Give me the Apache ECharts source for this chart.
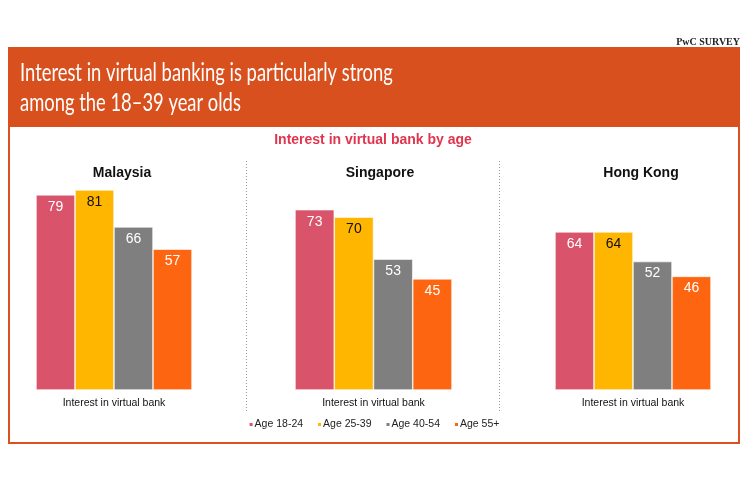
<!DOCTYPE html>
<html><head><meta charset="utf-8">
<script src="https://cdn.jsdelivr.net/npm/echarts@6/dist/echarts.min.js"></script>
<style>html,body{margin:0;padding:0;background:#fff}#c{width:747px;height:498px}</style>
</head><body><div id="c"></div>
<script>
const countries = ['Malaysia', 'Singapore', 'Hong Kong'];
const ageGroups = ['Age 18-24', 'Age 25-39', 'Age 40-54', 'Age 55+'];
const category = ['Interest in virtual bank'];
const age18_24 = [79, 73, 64];
const age25_39 = [81, 70, 64];
const age40_54 = [66, 53, 52];
const age55plus = [57, 45, 46];
const seriesValues = [age18_24, age25_39, age40_54, age55plus];
const colors = ['#D9536B', '#FFB600', '#7F7F7F', '#FD6511'];
const labelColors = ['#fff', '#111', '#fff', '#fff'];

const chart = echarts.init(document.getElementById('c'));
const gridPos = [{left: 36, width: 156}, {left: 295, width: 157}, {left: 555, width: 156}];
const grids = [], xAxes = [], yAxes = [], series = [], titles = [];
const titleX = [117, 375, 636];
countries.forEach((c, i) => {
  grids.push({left: gridPos[i].left, width: gridPos[i].width, top: 143, bottom: 108});
  xAxes.push({type: 'category', gridIndex: i, data: category,
    axisLine: {show: false}, axisTick: {show: false},
    axisLabel: {color: '#111', fontSize: 10.5, fontFamily: 'Liberation Sans', margin: 8}});
  yAxes.push({type: 'value', gridIndex: i, min: 0, max: 100, show: false});
  titles.push({text: c, left: titleX[i], top: 161, textAlign: 'center',
    textStyle: {fontSize: 14, fontWeight: 'bold', color: '#111', fontFamily: 'Liberation Sans'}});
  ageGroups.forEach((g, k) => {
    series.push({name: g, type: 'bar', xAxisIndex: i, yAxisIndex: i,
      data: [seriesValues[k][i]], barGap: '0%', barCategoryGap: '0%',
      itemStyle: {color: colors[k], borderColor: '#fff', borderWidth: 0.6},
      label: {show: true, position: 'insideTop', distance: 5, fontSize: 14,
        fontFamily: 'Liberation Sans', color: labelColors[k]}});
  });
});

chart.setOption({
  animation: false,
  title: titles,
  grid: grids, xAxis: xAxes, yAxis: yAxes, series: series,
  legend: {data: ageGroups, top: 414, left: 'center', icon: 'rect', itemWidth: 5, itemHeight: 5,
    itemGap: 13, textStyle: {fontSize: 10.5, color: '#222', fontFamily: 'Liberation Sans', padding: [0, 0, 0, -4]}},
  graphic: [
    {type: 'rect', z: -10, shape: {x: 9, y: 48, width: 730, height: 395},
      style: {fill: '#fff', stroke: '#DA5020', lineWidth: 2}},
    {type: 'rect', z: -9, shape: {x: 8, y: 48, width: 732, height: 79}, style: {fill: '#D9501F'}},
    {type: 'text', x: 740, y: 42, style: {text: 'PwC SURVEY', align: 'right', verticalAlign: 'middle', fill: '#222',
      font: 'bold 10px "Liberation Serif"'}},
    {type: 'text', x: 20, y: 73, scaleX: 0.735, style: {text: 'Interest in virtual banking is particularly strong',
      fill: '#fff', font: '400 25px Lato', verticalAlign: 'middle'}},
    {type: 'text', x: 20, y: 103, scaleX: 0.735, style: {text: 'among the 18–39 year olds',
      fill: '#fff', font: '400 25px Lato', verticalAlign: 'middle'}},
    {type: 'text', x: 373, y: 140, style: {text: 'Interest in virtual bank by age', align: 'center', verticalAlign: 'middle',
      fill: '#E0354F', font: 'bold 14px "Liberation Sans"'}},
    {type: 'line', shape: {x1: 246.5, y1: 161, x2: 246.5, y2: 413}, style: {stroke: '#999', lineWidth: 1, lineDash: [1, 2]}},
    {type: 'line', shape: {x1: 499.5, y1: 161, x2: 499.5, y2: 413}, style: {stroke: '#999', lineWidth: 1, lineDash: [1, 2]}}
  ]
});
</script></body></html>
